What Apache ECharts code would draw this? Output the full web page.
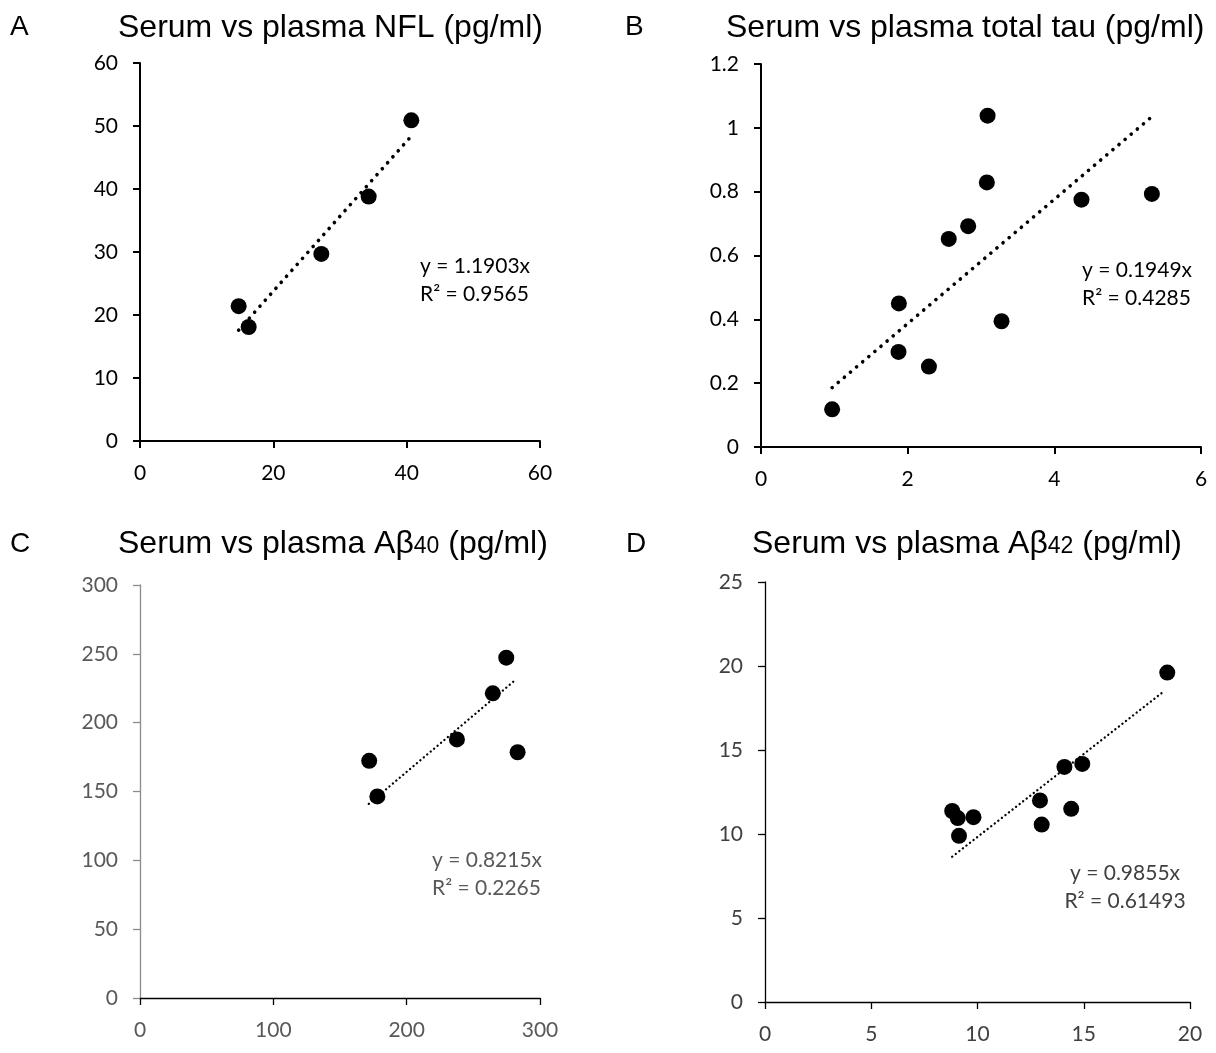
<!DOCTYPE html>
<html>
<head>
<meta charset="utf-8">
<script src="https://cdn.jsdelivr.net/npm/echarts@6/dist/echarts.min.js"></script>
<style>
  html, body { margin: 0; padding: 0; background: #fff; }
  #chart { width: 1216px; height: 1053px; }
</style>
</head>
<body>
<div id="chart"></div>
<script>
// A: serum vs plasma NFL
const nflPoints = [[14.8, 21.4], [16.3, 18.1], [27.2, 29.7], [34.3, 38.8], [40.7, 50.9]];
const nflTrend = [[14.8, 17.6], [40.7, 48.4]];
// B: serum vs plasma total tau
const tauPoints = [[0.97, 0.118], [1.88, 0.45], [1.875, 0.298], [2.29, 0.252], [2.56, 0.652],
  [2.825, 0.692], [3.08, 0.829], [3.09, 1.038], [3.28, 0.394], [4.37, 0.775], [5.33, 0.793]];
const tauTrend = [[0.97, 0.186], [5.33, 1.035]];
// C: serum vs plasma Ab40
const ab40Points = [[171.9, 172.3], [178.0, 146.4], [237.7, 187.8], [264.6, 221.3], [274.7, 247.2], [283.2, 178.5]];
const ab40Trend = [[171.6, 141], [281.5, 231]];
// D: serum vs plasma Ab42
const ab42Points = [[8.81, 11.37], [9.07, 10.95], [9.81, 11.0], [9.13, 9.89], [12.94, 12.0],
  [13.02, 10.56], [14.09, 13.99], [14.93, 14.17], [14.41, 11.5], [18.93, 19.61]];
const ab42Trend = [[8.81, 8.65], [18.81, 18.53]];

// axis ranges [min, max, interval] for x and y of each panel
const xRanges = [[0, 60, 20], [0, 6, 2], [0, 300, 100], [0, 20, 5]];
const yRanges = [[0, 60, 10], [0, 1.2, 0.2], [0, 300, 50], [0, 25, 5]];

const equations = [
  ['y = 1.1903x', 'R² = 0.9565'],
  ['y = 0.1949x', 'R² = 0.4285'],
  ['y = 0.8215x', 'R² = 0.2265'],
  ['y = 0.9855x', 'R² = 0.61493']
];

const chart = echarts.init(document.getElementById('chart'));

const grids = [
  { left: 140, top: 63, width: 400, height: 378 },
  { left: 761, top: 64, width: 440, height: 383 },
  { left: 140, top: 585, width: 400, height: 413 },
  { left: 765, top: 582, width: 425, height: 420 }
];
// per panel look
const labelColors = ['#000', '#000', '#595959', '#404040'];
const xLineColors = ['#000', '#000', '#000', '#000'];
const yLineColors = ['#000', '#000', '#8c8c8c', '#000'];
const lineWidths = [2, 2, 1.3, 1.3];

function axis(kind, i) {
  const r = kind === 'x' ? xRanges[i] : yRanges[i];
  const col = kind === 'x' ? xLineColors[i] : yLineColors[i];
  return {
    type: 'value',
    gridIndex: i,
    min: r[0], max: r[1], interval: r[2],
    splitLine: { show: false },
    axisLine: { show: true, onZero: false, lineStyle: { color: col, width: lineWidths[i] } },
    axisTick: { show: true, inside: false, length: 7, lineStyle: { color: col, width: lineWidths[i] } },
    axisLabel: {
      color: labelColors[i], fontFamily: 'Lato', fontSize: 21,
      margin: kind === 'x' ? 22 : 22
    }
  };
}

const pointSets = [nflPoints, tauPoints, ab40Points, ab42Points];
const trendSets = [nflTrend, tauTrend, ab40Trend, ab42Trend];
const dotDash = [[0.1, 7.9], [0.1, 7.9], [0.1, 4.4], [0.1, 4.4]];
const dotWidth = [3.6, 3.6, 2.3, 2.3];

const series = [];
pointSets.forEach((pts, i) => {
  series.push({
    type: 'scatter', xAxisIndex: i, yAxisIndex: i, data: pts,
    symbolSize: 16, itemStyle: { color: '#000', opacity: 1 }
  });
  series.push({
    type: 'line', xAxisIndex: i, yAxisIndex: i, data: trendSets[i],
    symbol: 'none', silent: true, z: 3,
    lineStyle: { color: '#000', width: dotWidth[i], type: dotDash[i], cap: 'round' }
  });
});

const titleFont = '"Liberation Sans", Arial, sans-serif';
const panelLetters = [
  ['A', 10, 13], ['B', 625, 13], ['C', 10, 530], ['D', 626, 530]
];
const titleSpots = [[118, 12], [726, 12], [118, 528], [752, 528]];
const titleTexts = [
  '{m|Serum vs plasma NFL (pg/ml)}',
  '{m|Serum vs plasma total tau (pg/ml)}',
  '{m|Serum vs plasma Aβ}{s|40}{m| (pg/ml)}',
  '{m|Serum vs plasma Aβ}{s|42}{m| (pg/ml)}'
];
// equation boxes: x, first line centre y, align
const eqSpots = [[420, 266, 'left'], [1082, 270, 'left'], [432, 860, 'left'], [1125, 873, 'center']];

const graphic = [];
panelLetters.forEach(p => {
  graphic.push({
    type: 'text', left: p[1], top: p[2],
    style: { text: p[0], font: '28px ' + titleFont, fill: '#000' }
  });
});
titleTexts.forEach((t, i) => {
  graphic.push({
    type: 'text', left: titleSpots[i][0], top: titleSpots[i][1],
    style: {
      text: t, fill: '#000',
      rich: {
        m: { fontFamily: titleFont, fontSize: 32, lineHeight: 38, verticalAlign: 'bottom' },
        s: { fontFamily: titleFont, fontSize: 23, lineHeight: 38, verticalAlign: 'bottom', padding: [0, 0, 2, 0] }
      }
    }
  });
});
equations.forEach((e, i) => {
  const sp = eqSpots[i];
  graphic.push({
    type: 'text', x: sp[0], y: sp[1] - 14,
    style: {
      text: e[0] + '\n' + e[1], fill: labelColors[i],
      font: '21px Lato', lineHeight: 28, align: sp[2], verticalAlign: 'top'
    }
  });
});

chart.setOption({
  backgroundColor: '#fff',
  animation: false,
  grid: grids,
  xAxis: [0, 1, 2, 3].map(i => axis('x', i)),
  yAxis: [0, 1, 2, 3].map(i => axis('y', i)),
  series: series,
  graphic: graphic
});
</script>
</body>
</html>
